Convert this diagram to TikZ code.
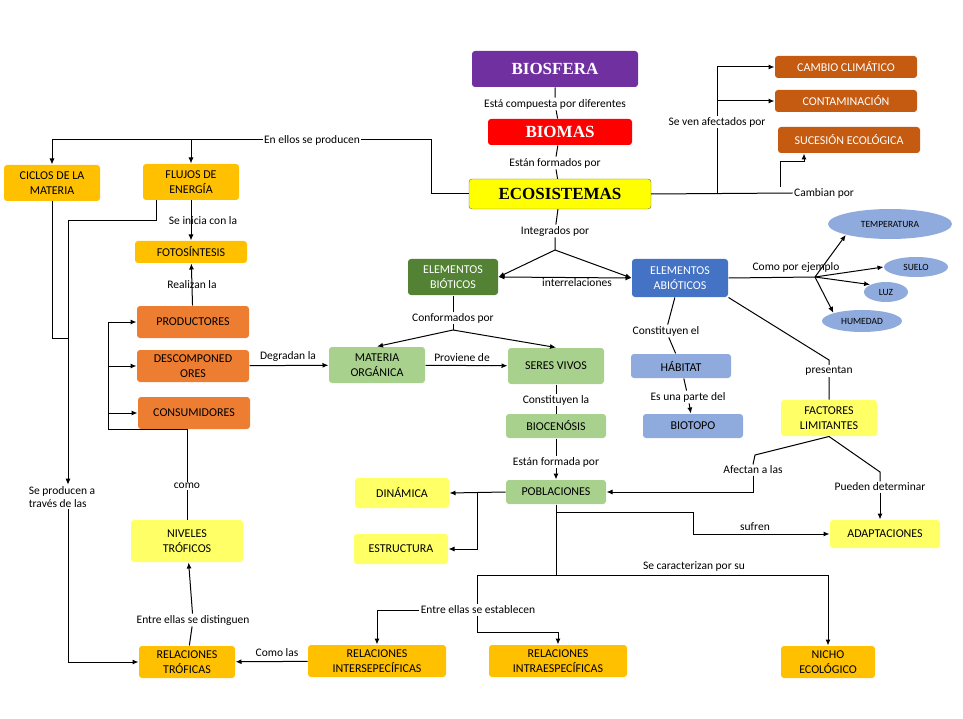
\documentclass[tikz,border=0pt]{standalone}
\usepackage{fontspec}
\setsansfont{Carlito}
\newfontfamily\headfont{Liberation Serif}
\usetikzlibrary{arrows.meta,shapes.geometric}

\definecolor{purpleBox}{HTML}{7030A0}
\definecolor{redBox}{HTML}{FF0000}
\definecolor{yellowBox}{HTML}{FFFF00}
\definecolor{brownBox}{HTML}{C55A11}
\definecolor{goldBox}{HTML}{FFC000}
\definecolor{orangeBox}{HTML}{ED7D31}
\definecolor{darkGreen}{HTML}{548235}
\definecolor{blueBox}{HTML}{4472C4}
\definecolor{lightGreen}{HTML}{A9D18E}
\definecolor{lightBlue}{HTML}{8FAADC}
\definecolor{paleYellow}{HTML}{FFFF66}

\tikzset{
  box/.style={rounded corners=3pt, align=center, inner sep=1pt, font=\sffamily\fontsize{12}{14.5}\selectfont},
  head/.style={box, font=\headfont\fontsize{17}{18}\selectfont\bfseries},
  oval/.style={ellipse, fill=lightBlue, inner sep=0pt, font=\sffamily\fontsize{9.5}{10}\selectfont},
  lbl/.style={fill=white, inner sep=1pt},
  arr/.style={-{Latex[length=6pt,width=5pt]}},
}

\begin{document}
\begin{tikzpicture}[x=1pt, y=-1pt, line width=1pt,
  font=\sffamily\fontsize{11.5}{13.5}\selectfont]
  \useasboundingbox (0,0) rectangle (963,719);

  % top of the map
  \node[head, fill=purpleBox, text=white, minimum width=166pt, minimum height=36pt] (biosfera) at (555,69) {BIOSFERA};
  \node[head, fill=redBox, text=white, minimum width=144pt, minimum height=26pt] (biomas) at (560,132) {BIOMAS};
  \node[head, fill=yellowBox, draw=black!60, line width=0.4pt, minimum width=182pt, minimum height=30pt] (eco) at (560,194) {ECOSISTEMAS};

  \node[box, fill=brownBox, text=white, minimum width=142pt, minimum height=22pt] (cambio) at (846,67) {CAMBIO CLIMÁTICO};
  \node[box, fill=brownBox, text=white, minimum width=142pt, minimum height=22pt] (contam) at (846,101) {CONTAMINACIÓN};
  \node[box, fill=brownBox, text=white, minimum width=142pt, minimum height=26pt] (sucesion) at (849,140) {SUCESIÓN ECOLÓGICA};

  % left side
  \node[box, fill=goldBox, minimum width=96pt, minimum height=36pt] (ciclos) at (52,183) {CICLOS DE LA\\MATERIA};
  \node[box, fill=goldBox, minimum width=96pt, minimum height=36pt] (flujos) at (191,182) {FLUJOS DE\\ENERGÍA};
  \node[box, fill=goldBox, minimum width=112pt, minimum height=22pt] (foto) at (191,252) {FOTOSÍNTESIS};
  \node[box, fill=orangeBox, minimum width=112pt, minimum height=32pt] (prod) at (193,322) {PRODUCTORES};
  \node[box, fill=orangeBox, minimum width=112pt, minimum height=32pt] (desc) at (193,366) {DESCOMPONED\\ORES};
  \node[box, fill=orangeBox, minimum width=112pt, minimum height=32pt] (cons) at (194,413) {CONSUMIDORES};
  \node[box, fill=paleYellow, minimum width=112pt, minimum height=42pt] (niveles) at (187,541) {NIVELES\\TRÓFICOS};
  \node[box, fill=goldBox, minimum width=96pt, minimum height=32pt] (reltrof) at (187,662) {RELACIONES\\TRÓFICAS};

  % middle
  \node[box, fill=darkGreen, text=white, minimum width=90pt, minimum height=36pt] (biot) at (453,277) {ELEMENTOS\\BIÓTICOS};
  \node[box, fill=blueBox, text=white, minimum width=96pt, minimum height=38pt] (abiot) at (680,278) {ELEMENTOS\\ABIÓTICOS};
  \node[box, fill=lightGreen, minimum width=96pt, minimum height=36pt] (materia) at (377,365) {MATERIA\\ORGÁNICA};
  \node[box, fill=lightGreen, minimum width=96pt, minimum height=36pt] (seres) at (556,366) {SERES VIVOS};
  \node[box, fill=lightGreen, minimum width=100pt, minimum height=24pt] (biocen) at (556,426) {BIOCENÓSIS};
  \node[box, fill=lightGreen, minimum width=100pt, minimum height=24pt] (pobl) at (556,492) {POBLACIONES};
  \node[box, fill=paleYellow, minimum width=94pt, minimum height=30pt] (dinamica) at (402,493) {DINÁMICA};
  \node[box, fill=paleYellow, minimum width=94pt, minimum height=30pt] (estructura) at (401,549) {ESTRUCTURA};
  \node[box, fill=goldBox, minimum width=138pt, minimum height=32pt] (inter) at (377,661) {RELACIONES\\INTERSEPECÍFICAS};
  \node[box, fill=goldBox, minimum width=138pt, minimum height=32pt] (intra) at (558,661) {RELACIONES\\INTRAESPECÍFICAS};

  % right side
  \node[oval, minimum width=124pt, minimum height=30pt] (temp) at (890,224) {TEMPERATURA};
  \node[oval, minimum width=64pt, minimum height=20pt] (suelo) at (916,267) {SUELO};
  \node[oval, minimum width=44pt, minimum height=20pt] (luz) at (886,292) {LUZ};
  \node[oval, minimum width=80pt, minimum height=22pt] (humedad) at (862,321) {HUMEDAD};
  \node[box, fill=lightBlue, minimum width=100pt, minimum height=24pt] (habitat) at (681,366) {HÁBITAT};
  \node[box, fill=lightBlue, minimum width=100pt, minimum height=24pt] (biotopo) at (693,426) {BIOTOPO};
  \node[box, fill=paleYellow, minimum width=96pt, minimum height=36pt] (factores) at (829,418) {FACTORES\\LIMITANTES};
  \node[box, fill=paleYellow, minimum width=110pt, minimum height=28pt] (adapt) at (885,534) {ADAPTACIONES};
  \node[box, fill=goldBox, minimum width=94pt, minimum height=32pt] (nicho) at (828,662) {NICHO\\ECOLÓGICO};

  % labels
  \node[lbl] (lcompuesta) at (555,104) {Está compuesta por diferentes};
  \node[lbl] (lformados) at (555,163) {Están formados por};
  \node[lbl] (lintegr) at (555,231) {Integrados por};
  \node[lbl] (lellos) at (312,140) {En ellos se producen};
  \node[lbl] (lafect) at (717,122) {Se ven afectados por};
  \node[lbl] (lcambian) at (824,193) {Cambian por};
  \node[lbl] (linter) at (577,283) {interrelaciones};
  \node[lbl] (lejemplo) at (796,267) {Como por ejemplo};
  \node[lbl] (linicia) at (203,221) {Se inicia con la};
  \node[lbl] (lrealizan) at (192,285) {Realizan la};
  \node[lbl] (ldegradan) at (288,356) {Degradan la};
  \node[lbl] (lconform) at (453,318) {Conformados por};
  \node[lbl] (lproviene) at (462,358) {Proviene de};
  \node[lbl] (lconst) at (666,331) {Constituyen el};
  \node[lbl] (lparte) at (688,397) {Es una parte del};
  \node[lbl] (lpresentan) at (829,371) {presentan};
  \node[lbl] (lconstla) at (556,400) {Constituyen la};
  \node[lbl] (lformada) at (556,462) {Están formada por};
  \node[lbl] (lafectan) at (753,470) {Afectan a las};
  \node[lbl] (lpueden) at (880,487) {Pueden determinar};
  \node[lbl] (lsufren) at (755,527) {sufren};
  \node[lbl] (lcaract) at (694,566) {Se caracterizan por su};
  \node[lbl] (lestabl) at (478,610) {Entre ellas se establecen};
  \node[lbl] (ldistin) at (193,620) {Entre ellas se distinguen};
  \node[lbl] (lcomolas) at (277,653) {Como las};
  \node[lbl] (lcomo) at (187,486) {como};
  \node[lbl, align=left] (ltraves) at (62,497) {Se producen a\\través de las};

  \coordinate (apex) at (555,250);
  \coordinate (hub) at (815,277);
  \coordinate (split) at (453,330);
  \coordinate (bend) at (780,162);

  % connectors
  \draw (biosfera) -- (lcompuesta) -- (biomas);
  \draw (biomas) -- (lformados) -- (eco);
  \draw (eco) -- (lintegr) -- (apex);
  \draw[arr] (apex) -- (biot.east);
  \draw[arr] (apex) -- (abiot.west);
  \draw[{Latex[length=6pt,width=5pt]}-{Latex[length=6pt,width=5pt]}] (biot.east) -- (abiot.west);

  \draw (eco.west) -- ++(-37,0) |- (lellos.east);
  \draw[arr] (lellos.west) -| (ciclos.north);
  \draw[arr] (flujos.north |- lellos.west) -- (flujos.north);

  \draw (eco.east) -- (lcambian.west);
  \draw (lafect.south) -- (lafect.south |- eco.east);
  \draw[arr] (lafect.north) |- (cambio.west);
  \draw[arr] (lafect.north |- contam.west) -- (contam.west);
  \draw[arr] (lcambian.north -| bend) -- (bend) -| ([xshift=-45pt]sucesion.south);

  \draw (abiot.east) -- (hub);
  \draw[arr] (hub) -- (temp.south west);
  \draw[arr] (hub) -- (suelo.west);
  \draw[arr] (hub) -- (luz.north west);
  \draw[arr] (hub) -- (humedad.north west);

  \draw (abiot) -- (lconst) -- (habitat);
  \draw[arr] (habitat) -- (lparte) -- (biotopo);
  \draw (abiot.south east) -- (829,360) -- (lpresentan) -- (factores);

  \draw (biot) -- (lconform) -- (split);
  \draw[arr] (split) -- (materia.north);
  \draw[arr] (split) -- (seres.north);
  \draw[arr] (materia) -- (seres);
  \draw[arr] (desc) -- (materia);

  \draw[arr] (flujos) -- (foto);
  \draw[arr] (prod) -- (foto);
  \draw (flujos.south west) ++(14,0) |- (68,221) -- (68,475) coordinate (ctop);
  \draw[arr] (ctop) -- (ltraves.north -| ctop);
  \draw[arr] (ltraves.south -| ctop) |- (reltrof.west);
  \draw (ciclos) |- (68,338);

  \draw[arr] (cons.south -| 108,0) |- (prod.west);
  \draw[arr] (108,0 |- desc.west) -- (desc.west);
  \draw[arr] (108,0 |- cons.west) -- (cons.west);
  \draw (cons.south -| 108,0) -- (cons.south -| niveles.north) -- (lcomo) -- (niveles);
  \draw[arr] (reltrof) -- (ldistin) -- (niveles);
  \draw[arr] (inter) -- (reltrof);

  \draw (seres) -- (lconstla) -- (biocen);
  \draw[arr] (biocen) -- (lformada) -- (pobl);
  \draw[arr] (pobl.west) -- (dinamica.east);
  \draw[arr] (477,0 |- pobl.west) |- (estructura.east);

  \draw (factores.south) -- (755,455) -- (lafectan.north);
  \draw[arr] (lafectan.south) |- (pobl.east);
  \draw (factores.south) -- (880,472) -- (lpueden.north);
  \draw[arr] (lpueden.south) -- (adapt.north -| lpueden.south);

  \draw[arr] (pobl.south) -- (556,512) -- (693,512) -- (693,534) -- (adapt.west);
  \draw (pobl.south) -- (556,575);
  \draw[arr] (477,575) -- (828,575) -- (nicho.north);
  \draw (477,575) -- (lestabl.north -| 477,0);
  \draw[arr] (lestabl.west) -| (inter.north);
  \draw[arr] (lestabl.south -| 477,0) |- (558,632) -- (intra.north);
\end{tikzpicture}
\end{document}
